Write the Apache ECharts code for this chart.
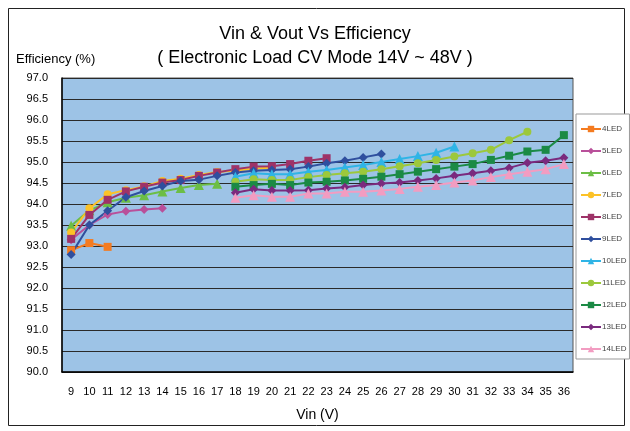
<!DOCTYPE html>
<html>
<head>
<meta charset="utf-8">
<script src="https://cdn.jsdelivr.net/npm/echarts@6/dist/echarts.min.js"></script>
<style>
  html, body { margin: 0; padding: 0; background: #fff; }
  #main { width: 630px; height: 431px; }
</style>
</head>
<body>
<div id="main"></div>
<script>
var vin = ['9','10','11','12','13','14','15','16','17','18','19','20','21','22','23','24','25','26','27','28','29','30','31','32','33','34','35','36'];
var yTicks = [90, 97, 0.5];

// each series: first Vin value, then the readings
var led4 = [92.9, 93.07, 92.98];
var led5 = [93.15, 93.5, 93.75, 93.83, 93.87, 93.9];
var led6 = [93.48, 93.85, 94.04, 94.15, 94.21, 94.3, 94.38, 94.45, 94.48];
var led7 = [93.32, 93.9, 94.23, 94.33, 94.42, 94.55, 94.6, 94.69, 94.76, 94.8, 94.84, 94.87];
var led8 = [93.17, 93.74, 94.1, 94.3, 94.41, 94.51, 94.57, 94.67, 94.75, 94.83, 94.89, 94.9, 94.95, 95.03, 95.09];
var led9 = [92.8, 93.5, 93.84, 94.16, 94.31, 94.43, 94.55, 94.58, 94.67, 94.75, 94.79, 94.81, 94.83, 94.89, 94.97, 95.03, 95.11, 95.19];
var led10 = [94.65, 94.73, 94.71, 94.71, 94.77, 94.81, 94.87, 94.93, 95.0, 95.07, 95.14, 95.22, 95.37];
var led11 = [94.53, 94.59, 94.57, 94.57, 94.64, 94.69, 94.73, 94.77, 94.83, 94.9, 94.97, 95.05, 95.13, 95.21, 95.29, 95.52, 95.72];
var led12 = [94.41, 94.45, 94.48, 94.45, 94.51, 94.53, 94.56, 94.6, 94.65, 94.71, 94.77, 94.83, 94.89, 94.95, 95.05, 95.15, 95.25, 95.29, 95.64];
var led13 = [94.27, 94.35, 94.32, 94.32, 94.33, 94.37, 94.4, 94.45, 94.49, 94.51, 94.56, 94.61, 94.67, 94.73, 94.79, 94.86, 94.98, 95.03, 95.1];
var led14 = [94.15, 94.21, 94.17, 94.17, 94.25, 94.25, 94.29, 94.29, 94.32, 94.36, 94.41, 94.45, 94.51, 94.56, 94.64, 94.71, 94.77, 94.83, 94.95];

var names = ['4LED','5LED','6LED','7LED','8LED','9LED','10LED','11LED','12LED','13LED','14LED'];
var starts = [9, 9, 9, 9, 9, 9, 18, 18, 18, 18, 18];
var values = [led4, led5, led6, led7, led8, led9, led10, led11, led12, led13, led14];
var colors = ['#F47B20','#B9509A','#6CBE45','#FCC227','#9E3368','#2F4F9E','#2FB4E6','#9CC83C','#1B8A45','#7A2A7E','#F29CC1'];
var symbols = ['rect','diamond','triangle','circle','rect','diamond','triangle','circle','rect','diamond','triangle'];

function pad(start, vals) {
  var out = [];
  for (var i = 0; i < vin.length; i++) {
    var k = Number(vin[i]) - start;
    out.push(k >= 0 && k < vals.length ? vals[k] : null);
  }
  return out;
}

var seriesList = names.map(function (n, i) {
  return {
    name: n,
    type: 'line',
    data: pad(starts[i], values[i]),
    symbol: symbols[i],
    symbolSize: symbols[i] == 'triangle' ? 10 : (symbols[i] == 'diamond' ? 9 : 8),
    itemStyle: { color: colors[i] },
    lineStyle: { color: colors[i], width: 2 },
    emphasis: { disabled: true },
  };
});

var chart = echarts.init(document.getElementById('main'));

var option = {
  animation: false,
  backgroundColor: '#fff',
  textStyle: { fontFamily: 'Liberation Sans, Arial, sans-serif' },
  title: [
    {
      text: 'Vin & Vout Vs Efficiency',
      left: 'center',
      top: 20,
      textStyle: { fontSize: 18, fontWeight: 'normal', color: '#000' },
    },
    {
      text: '( Electronic Load CV Mode 14V ~ 48V )',
      left: 'center',
      top: 44,
      textStyle: { fontSize: 18, fontWeight: 'normal', color: '#000' },
    },
    {
      text: 'Efficiency (%)',
      left: 11,
      top: 48,
      textStyle: { fontSize: 13, fontWeight: 'normal', color: '#000' },
    },
  ],
  graphic: [
    {
      type: 'rect',
      shape: { x: 8.5, y: 8.5, width: 616, height: 417 },
      style: { fill: 'none', stroke: '#222', lineWidth: 1 },
      silent: true,
      z: -1,
    },
  ],
  legend: {
    orient: 'vertical',
    left: 576,
    top: 114,
    width: 46,
    height: 242,
    padding: [11, 3, 6, 4],
    itemGap: 14,
    itemWidth: 20,
    itemHeight: 8,
    backgroundColor: '#fff',
    borderColor: '#999',
    borderWidth: 1,
    textStyle: { fontSize: 8, color: '#444', padding: [0, 0, 0, -4] },
    data: names,
  },
  grid: {
    left: 62,
    right: 57,
    top: 78,
    bottom: 59,
    show: true,
    backgroundColor: '#9DC3E6',
    borderColor: '#555',
    borderWidth: 1,
  },
  xAxis: {
    type: 'category',
    data: vin,
    boundaryGap: true,
    name: 'Vin (V)',
    nameLocation: 'middle',
    nameGap: 36,
    nameTextStyle: { fontSize: 14, color: '#000' },
    axisLine: { lineStyle: { color: '#000', width: 1.5 } },
    axisTick: { show: false },
    axisLabel: { color: '#000', fontSize: 11, margin: 14, interval: 0 },
  },
  yAxis: {
    type: 'value',
    min: yTicks[0],
    max: yTicks[1],
    interval: yTicks[2],
    axisLine: { show: true, lineStyle: { color: '#000', width: 1.5 } },
    axisTick: { show: false },
    axisLabel: {
      color: '#000',
      fontSize: 11,
      margin: 14,
      formatter: function (v) { return v.toFixed(1); },
    },
    splitLine: { lineStyle: { color: '#2a2a2a', width: 1 } },
  },
  series: seriesList,
};
option && chart.setOption(option);
</script>
</body>
</html>
